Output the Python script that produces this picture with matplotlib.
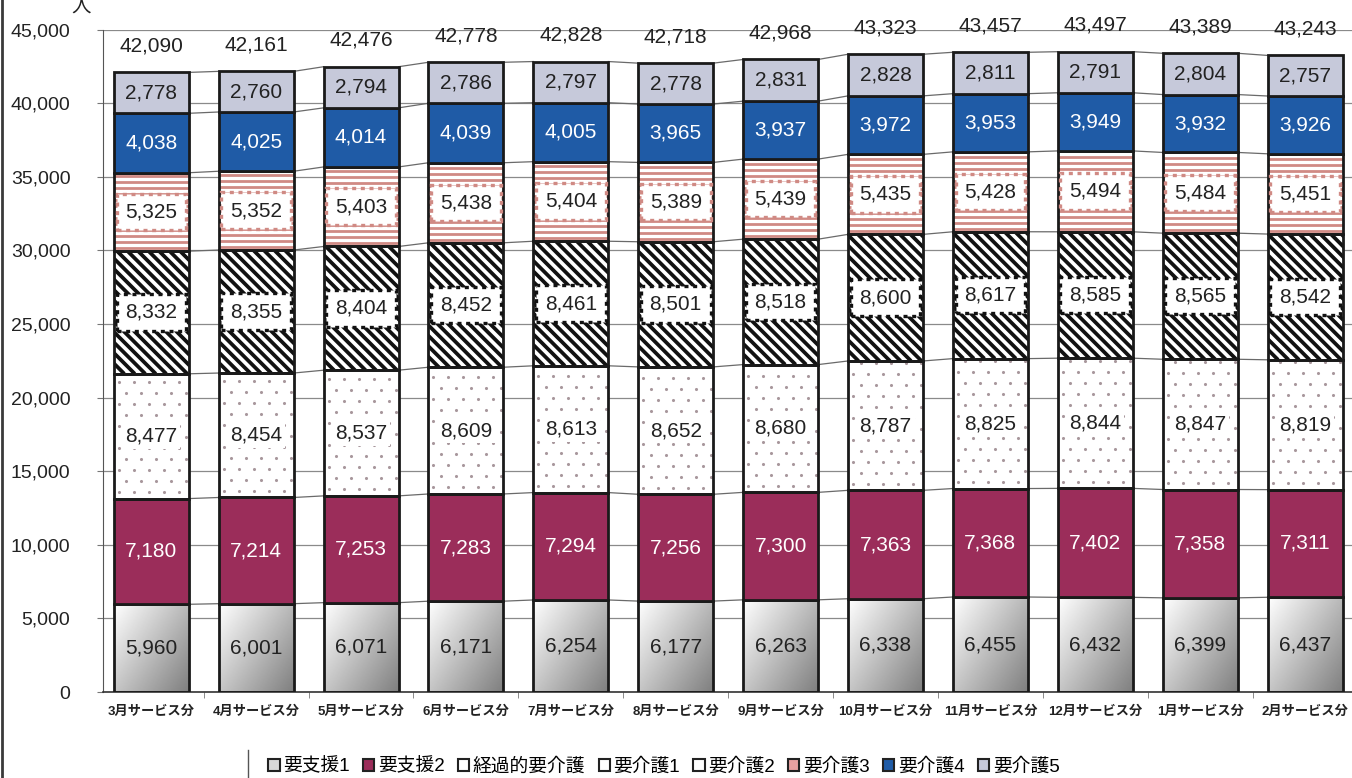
import numpy as np
import matplotlib
matplotlib.use('Agg')
import matplotlib.pyplot as plt
from matplotlib.patches import Patch, Rectangle
from matplotlib.lines import Line2D
from matplotlib.collections import LineCollection

plt.rcParams['font.family'] = ['Liberation Sans', 'Noto Sans CJK JP', 'DejaVu Sans']

# data
months = ['3月サービス分', '4月サービス分', '5月サービス分', '6月サービス分', '7月サービス分', '8月サービス分',
          '9月サービス分', '10月サービス分', '11月サービス分', '12月サービス分', '1月サービス分', '2月サービス分']
shien1 = [5960, 6001, 6071, 6171, 6254, 6177, 6263, 6338, 6455, 6432, 6399, 6437]
shien2 = [7180, 7214, 7253, 7283, 7294, 7256, 7300, 7363, 7368, 7402, 7358, 7311]
keika = [0] * 12
kaigo1 = [8477, 8454, 8537, 8609, 8613, 8652, 8680, 8787, 8825, 8844, 8847, 8819]
kaigo2 = [8332, 8355, 8404, 8452, 8461, 8501, 8518, 8600, 8617, 8585, 8565, 8542]
kaigo3 = [5325, 5352, 5403, 5438, 5404, 5389, 5439, 5435, 5428, 5494, 5484, 5451]
kaigo4 = [4038, 4025, 4014, 4039, 4005, 3965, 3937, 3972, 3953, 3949, 3932, 3926]
kaigo5 = [2778, 2760, 2794, 2786, 2797, 2778, 2831, 2828, 2811, 2791, 2804, 2757]
legend_labels = ['要支援1', '要支援2', '経過的要介護', '要介護1', '要介護2', '要介護3', '要介護4', '要介護5']

series = [shien1, shien2, keika, kaigo1, kaigo2, kaigo3, kaigo4, kaigo5]
totals = np.sum(np.array(series), axis=0)

maroon = '#9B2D5A'
blue = '#1F5BA6'
lav = '#C6C9DA'
pink = '#D08A84'
edge = '#1a1a1a'

fig = plt.figure(figsize=(13.52, 7.78), dpi=100)
ax = fig.add_axes([0.0762, 0.1105, 0.924, 0.8515])

x = np.arange(len(months))
w = 0.715
xmin, xmax = -0.46, 11.45
ymax = 45000

ax.set_ylim(0, ymax)
ax.set_xlim(xmin, xmax)
ax.set_yticks(range(0, 45001, 5000))
ax.set_yticklabels([f'{v:,}' for v in range(0, 45001, 5000)])
ax.yaxis.grid(True, color='#8a8a8a', linewidth=0.9)
ax.set_axisbelow(True)
for s in ['top', 'right']:
    ax.spines[s].set_visible(False)
ax.spines['left'].set_color('#555555')
ax.spines['bottom'].set_color('#333333')
ax.spines['bottom'].set_linewidth(1.2)
ax.tick_params(axis='y', length=4.5, color='#777777', pad=19, labelsize=14, labelcolor='#222222')
ax.set_xticks(x)
ax.set_xticklabels(months, fontsize=9.5, fontweight='bold', color='#222222')
ax.set_xticks(x[:-1] + 0.5, minor=True)
ax.tick_params(axis='x', which='major', length=0, pad=10)
ax.tick_params(axis='x', which='minor', length=4, color='#777777')

# pixels per data unit
sx = 1352 * 0.924 / (xmax - xmin)
sy = 778 * 0.8515 / ymax


def clip_rect(i, y0, h):
    r = Rectangle((i - w / 2, y0), w, h, transform=ax.transData, facecolor='none', edgecolor='none')
    ax.add_patch(r)
    return r


def diag_fill(bot, vals, period, color, lw):
    for i in x:
        y0, h = bot[i], vals[i]
        x0, x1 = i - w / 2, i + w / 2
        run = h * sy / sx
        starts = np.arange(x0 - run, x1 + period / sx, period / sx)
        segs = [[(c, y0 + h), (c + run, y0)] for c in starts]
        lc = LineCollection(segs, colors=color, linewidths=lw, zorder=2.2)
        ax.add_collection(lc)
        lc.set_clip_path(clip_rect(i, y0, h))


def hstripe_fill(bot, vals, period, color, lw):
    for i in x:
        y0, h = bot[i], vals[i]
        ys = np.arange(y0 + period / sy * 0.5, y0 + h, period / sy)
        segs = [[(i - w / 2, yy), (i + w / 2, yy)] for yy in ys]
        lc = LineCollection(segs, colors=color, linewidths=lw, zorder=2.2)
        ax.add_collection(lc)
        lc.set_clip_path(clip_rect(i, y0, h))


def dot_fill(bot, vals, px, py, color, size):
    for i in x:
        y0, h = bot[i], vals[i]
        pts = []
        for k, yy in enumerate(np.arange(y0 + py / sy * 0.6, y0 + h, py / sy)):
            off = (px / 2 if k % 2 else 0) + 5
            for xx in np.arange(i - w / 2 + off / sx, i + w / 2, px / sx):
                pts.append((xx, yy))
        pts = np.array(pts)
        sc = ax.scatter(pts[:, 0], pts[:, 1], s=size, color=color, linewidths=0, zorder=2.2)
        sc.set_clip_path(clip_rect(i, y0, h))


bottoms = np.zeros(len(months))
levels = []

# 要支援1 gradient
grad_u = np.linspace(0, 1, 60)
grad_v = np.linspace(0, 1, 80)
U, V = np.meshgrid(grad_u, grad_v)
G = 1 - 0.5 * (0.55 * U + 0.45 * V)  # V=0 at top row
for i in x:
    h = shien1[i]
    rect = clip_rect(i, 0, h)
    im = ax.imshow(G, cmap='gray', vmin=0, vmax=1, extent=[i - w / 2, i + w / 2, 0, h],
                   aspect='auto', interpolation='bilinear', zorder=2)
    im.set_clip_path(rect)
ax.set_xlim(xmin, xmax)
ax.set_ylim(0, ymax)
ax.bar(x, shien1, w, bottom=bottoms, facecolor='none', edgecolor=edge, linewidth=2, zorder=3)
bottoms += shien1
levels.append(bottoms.copy())

ax.bar(x, shien2, w, bottom=bottoms, color=maroon, edgecolor=edge, linewidth=2, zorder=3)
bottoms += shien2
levels.append(bottoms.copy())
bottoms += keika

b1 = bottoms.copy()
ax.bar(x, kaigo1, w, bottom=b1, facecolor='white', linewidth=0, zorder=2)
dot_fill(b1, kaigo1, 15, 11, '#a8979c', 5)
ax.bar(x, kaigo1, w, bottom=b1, facecolor='none', edgecolor=edge, linewidth=2, zorder=3)
bottoms += kaigo1
levels.append(bottoms.copy())

b2 = bottoms.copy()
ax.bar(x, kaigo2, w, bottom=b2, facecolor='white', linewidth=0, zorder=2)
diag_fill(b2, kaigo2, 10.5, '#111111', 2.7)
ax.bar(x, kaigo2, w, bottom=b2, facecolor='none', edgecolor=edge, linewidth=2, zorder=3)
bottoms += kaigo2
levels.append(bottoms.copy())

b3 = bottoms.copy()
ax.bar(x, kaigo3, w, bottom=b3, facecolor='white', linewidth=0, zorder=2)
hstripe_fill(b3, kaigo3, 6, pink, 2.0)
ax.bar(x, kaigo3, w, bottom=b3, facecolor='none', edgecolor=edge, linewidth=2, zorder=3)
bottoms += kaigo3
levels.append(bottoms.copy())

b4 = bottoms.copy()
ax.bar(x, kaigo4, w, bottom=b4, color=blue, edgecolor=edge, linewidth=2, zorder=3)
bottoms += kaigo4
levels.append(bottoms.copy())

b5 = bottoms.copy()
ax.bar(x, kaigo5, w, bottom=b5, color=lav, edgecolor=edge, linewidth=2, zorder=3)
bottoms += kaigo5
levels.append(bottoms.copy())

# series lines
for lv in levels:
    for i in range(len(months) - 1):
        ax.plot([i + w / 2, i + 1 - w / 2], [lv[i], lv[i + 1]], color='#6a6a6a', linewidth=0.9, zorder=1.5)

# labels
fs = 15
box_dash = (0, (1.2, 1.4))
for i in x:
    ax.text(i, shien1[i] / 2, f'{shien1[i]:,}', ha='center', va='center', fontsize=fs, color='#222222', zorder=5)
    ax.text(i, shien1[i] + shien2[i] / 2, f'{shien2[i]:,}', ha='center', va='center', fontsize=fs,
            color='white', zorder=5)
    ax.text(i, b1[i] + kaigo1[i] / 2, f'{kaigo1[i]:,}', ha='center', va='center', fontsize=fs, color='#222222',
            zorder=5, bbox=dict(boxstyle='square,pad=0.15', facecolor='white', edgecolor='none'))
    ax.text(i, b2[i] + kaigo2[i] / 2, f'{kaigo2[i]:,}', ha='center', va='center', fontsize=fs, color='#222222',
            zorder=5, bbox=dict(boxstyle='square,pad=0.42', facecolor='white', edgecolor='#111111',
                                linestyle=box_dash, linewidth=2.4))
    ax.text(i, b3[i] + kaigo3[i] / 2, f'{kaigo3[i]:,}', ha='center', va='center', fontsize=fs, color='#222222',
            zorder=5, bbox=dict(boxstyle='square,pad=0.42', facecolor='white', edgecolor=pink,
                                linestyle=box_dash, linewidth=2.4))
    ax.text(i, b4[i] + kaigo4[i] / 2, f'{kaigo4[i]:,}', ha='center', va='center', fontsize=fs, color='white',
            zorder=5)
    ax.text(i, b5[i] + kaigo5[i] / 2, f'{kaigo5[i]:,}', ha='center', va='center', fontsize=fs, color='#222222',
            zorder=5)
    ax.annotate(f'{totals[i]:,}', (i, totals[i]), xytext=(0, 19), textcoords='offset points',
                ha='center', va='center', fontsize=fs, color='#222222', zorder=5)

fig.text(0.06, 0.99, '人', fontsize=14, ha='center', va='center', color='#222222')

# legend
face = ['#d8d8d8', maroon, 'white', 'white', 'white', '#e8a0a0', blue, lav]
handles = [Patch(facecolor=c, edgecolor='#222222', linewidth=1.5) for c in face]
fig.legend(handles, legend_labels, loc='center', bbox_to_anchor=(0.491, 0.0145), ncol=8, frameon=False,
           fontsize=13.5, handlelength=0.6, handleheight=0.6, handletextpad=0.2, columnspacing=0.7,
           borderpad=0)

fig.add_artist(Line2D([248 / 1352, 248 / 1352], [0, 28 / 778], color='#555555', linewidth=1))
fig.add_artist(Line2D([0.0012, 0.0012], [0, 1], color='#3a3a3a', linewidth=2))

fig.savefig('out.png', dpi=100)
